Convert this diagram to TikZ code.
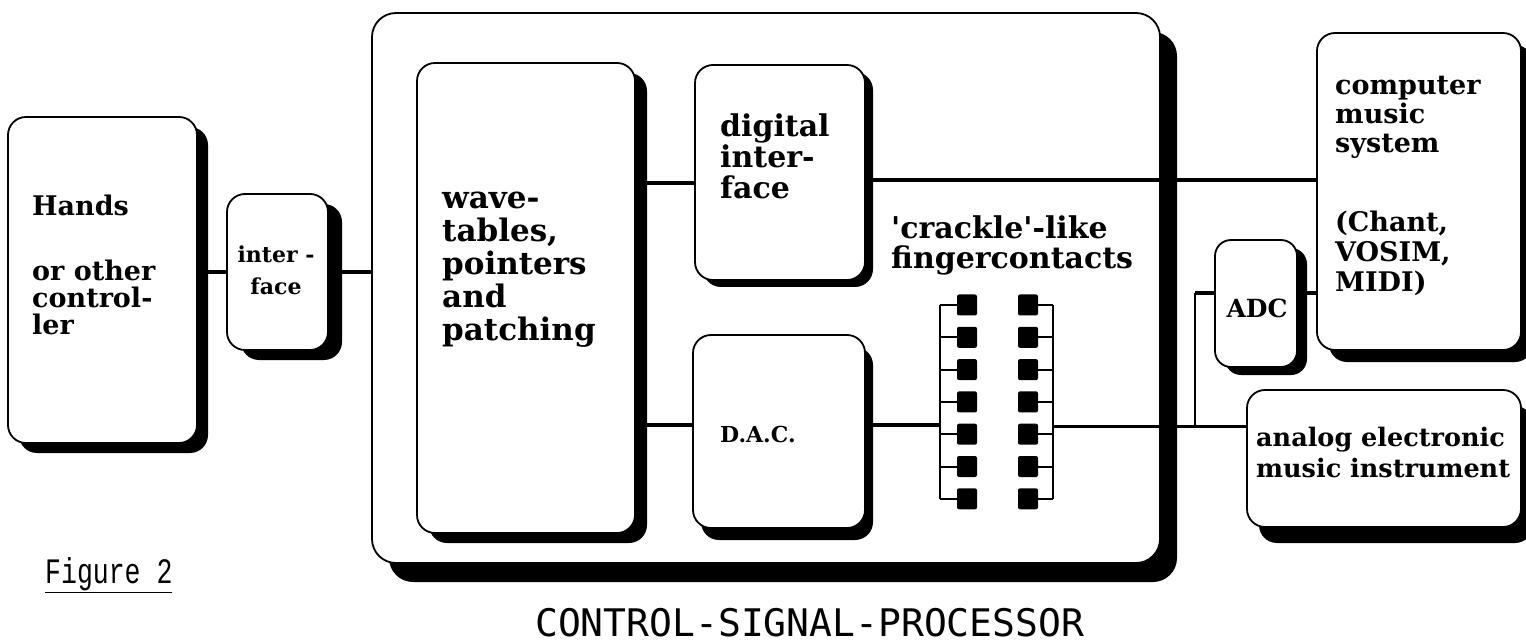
\documentclass[tikz,border=0pt]{standalone}
\usepackage{fontspec}
\usepackage{graphicx}
\setmainfont{DejaVu Serif}
\newfontfamily\qfont{DejaVu Serif}
\newfontfamily\monoA{Liberation Mono}
\newfontfamily\monoB{DejaVu Sans Mono}
\usetikzlibrary{shadows}
\pgfdeclarelayer{back}
\pgfdeclarelayer{mid}
\pgfsetlayers{back,mid,main}
\newcommand{\lst}{\rule{0pt}{0.8em}}
\newcommand{\sq}{{\qfont\bfseries\symbol{39}}}
\tikzset{
  box/.style={draw, line width=1.8pt, fill=white, rounded corners=18pt, anchor=north west, inner sep=0pt, outer sep=0pt},
  sh/.style 2 args={drop shadow={shadow xshift=#1pt, shadow yshift=-#2pt, fill=black, opacity=1}},
  conn/.style={line width=4pt},
  thinconn/.style={line width=2pt},
  sqr/.style={fill=black, minimum width=20pt, minimum height=21pt, inner sep=0pt, rounded corners=2pt},
  txt/.style={anchor=north west, inner sep=0pt, align=left},
}
\begin{document}
\begin{tikzpicture}[x=1pt,y=-1pt]
\useasboundingbox (0,0) rectangle (1526,644);
\begin{pgfonlayer}{back}
\node[box, sh={17}{19}, rounded corners=24pt, minimum width=788pt, minimum height=550pt] (main) at (372,13) {};
\end{pgfonlayer}

\node[box, sh={11}{10}, minimum width=189pt, minimum height=326pt] (hands) at (8,117) {};
\node[box, sh={14}{10}, minimum width=101pt, minimum height=156pt] (ifc) at (227,194) {};
\node[box, sh={12}{10}, minimum width=218pt, minimum height=470pt] (wave) at (417,63) {};
\node[box, sh={8}{7}, minimum width=170pt, minimum height=215pt] (dig) at (695,65) {};
\node[box, sh={8}{12}, minimum width=172pt, minimum height=193pt] (dac) at (693,335) {};
\node[box, sh={10}{8}, rounded corners=16pt, minimum width=82pt, minimum height=127pt] (adc) at (1215,240) {};
\node[box, sh={12}{12}, minimum width=204pt, minimum height=317pt] (cms) at (1317,33) {};
\node[box, sh={12}{16}, minimum width=274pt, minimum height=137pt] (ana) at (1247,390) {};

% finger contacts
\foreach \i in {0,...,6} {
  \node[sqr] (l\i) at (967,305+32.3*\i) {};
  \node[sqr] (r\i) at (1028,305+32.3*\i) {};
}
\coordinate (lbt) at (940,305);
\coordinate (lbb) at (940,499);
\coordinate (rbt) at (1053,305);
\coordinate (rbb) at (1053,499);
\coordinate (j1) at (0,183);
\coordinate (j2) at (0,180);
\coordinate (j3) at (0,425);
\coordinate (j4) at (0,426);
\coordinate (j5) at (0,293);
\coordinate (br) at (1195,426);

\begin{pgfonlayer}{mid}
\draw[conn] (hands.east |- ifc.west) -- (ifc.west);
\draw[conn] (ifc.east) -- (ifc.east -| main.west);
\draw[conn] (wave.east |- j1) -- (dig.west |- j1);
\draw[conn] (dig.east |- j2) -- (cms.west |- j2);
\draw[conn] (wave.east |- j3) -- (dac.west |- j3);
\draw[conn] (dac.east |- j3) -- (lbt |- j3);
\draw[line width=3pt] (rbt |- j4) -- (ana.west |- j4);
\draw[thinconn] (lbt) -- (lbb);
\draw[thinconn] (rbt) -- (rbb);
\foreach \i in {0,...,6} {
  \draw[thinconn] (l\i.center) -- (l\i.center -| lbt);
  \draw[thinconn] (r\i.center) -- (r\i.center -| rbt);
}
\draw[thinconn] (br) -- (br |- j5);
\draw[conn] (br |- j5) -- (adc.west |- j5);
\draw[conn] (adc.east |- j5) -- (cms.west |- j5);
\end{pgfonlayer}

% texts
\node[txt, font={\bfseries\fontsize{27}{27}\selectfont}] (t-hands) at (32,193.4) {\lst Hands};
\node[txt, font={\bfseries\fontsize{27}{27}\selectfont}] (t-other) at (32,258.4) {\lst or other\\control-\\ler};
\node[inner sep=0pt, anchor=north, align=center, font={\bfseries\fontsize{22}{32}\selectfont}] (t-ifc) at (276,245) {\lst inter -\\face};
\node[txt, font={\bfseries\fontsize{31}{33}\selectfont}] (t-wave) at (442,183.2) {\lst wave-\\tables,\\pointers\\and\\patching};
\node[txt, font={\bfseries\fontsize{30}{31}\selectfont}] (t-dig) at (720,112) {\lst digital\\inter-\\face};
\node[anchor=base west, inner sep=0pt, font={\bfseries\fontsize{22}{22}\selectfont}] (t-dac) at (720,442) {D.A.C.};
\node[txt, font={\bfseries\fontsize{30}{30}\selectfont}] (t-crk) at (891,214) {\lst\sq crackle\sq-like\\fingercontacts};
\node[txt, font={\bfseries\fontsize{27}{29}\selectfont}] (t-cms) at (1335,72.4) {\lst computer\\music\\system};
\node[txt, font={\bfseries\fontsize{27}{30}\selectfont}] (t-cms2) at (1335,209.4) {\lst (Chant,\\ VOSIM,\\ MIDI)};
\node[inner sep=0pt, font={\bfseries\fontsize{25}{25}\selectfont}] (t-adc) at (1257,308) {ADC};
\node[txt, font={\bfseries\fontsize{25.5}{31}\selectfont}] (t-ana) at (1256,426) {\lst analog electronic\\music instrument};
\node[anchor=base west, inner sep=0pt, font={\monoA\fontsize{26.5}{26.5}\selectfont}] (fig) at (45,583) {\scalebox{1}[1.35]{\underline{Figure 2}}};
\node[anchor=base west, inner sep=0pt, font={\monoB\fontsize{38}{38}\selectfont}] (title) at (535,636) {CONTROL-SIGNAL-PROCESSOR};
\end{tikzpicture}
\end{document}
